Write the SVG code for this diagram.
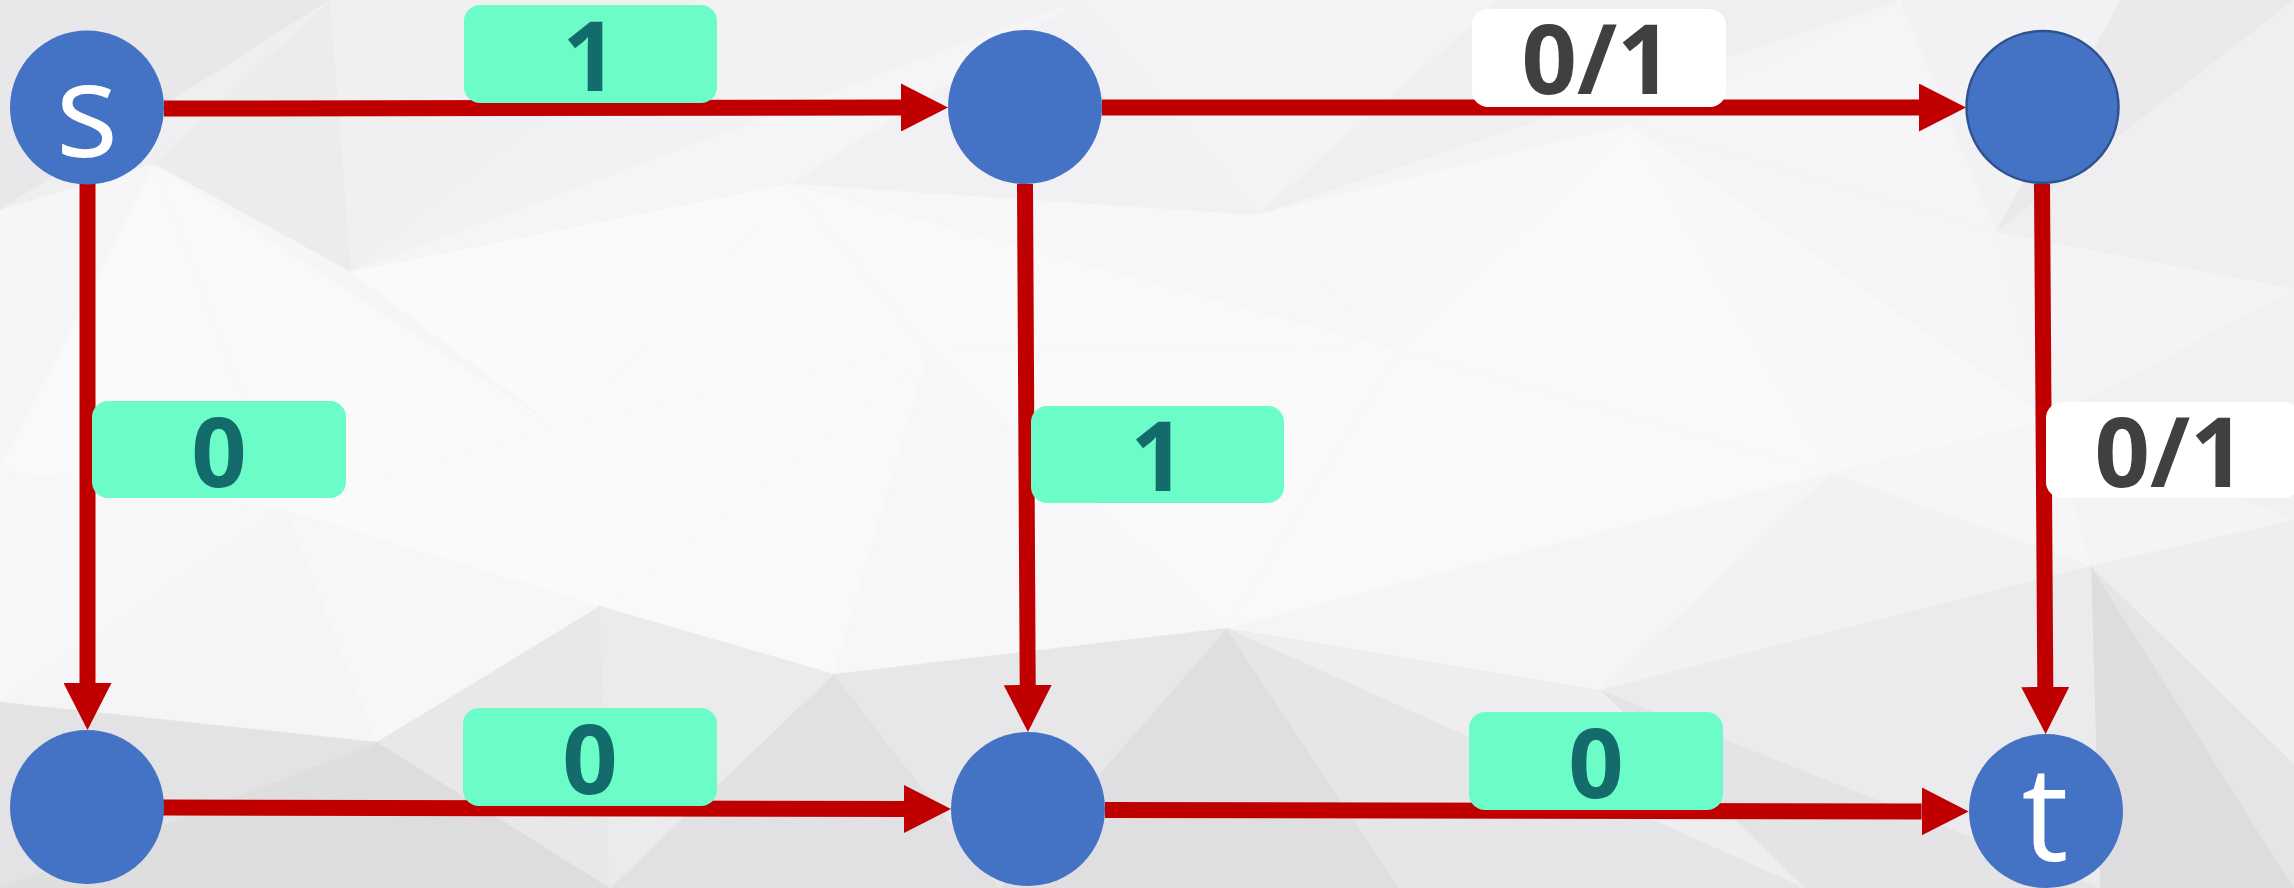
<svg xmlns="http://www.w3.org/2000/svg" width="2294" height="888" viewBox="0 0 2294 888">
  <defs>
    <style>
      .edge { stroke: #C00000; stroke-width: 16; fill: none; }
      .node { fill: #4472C4; }
      .lbl-g { fill: #6CFCC7; }
      .lbl-w { fill: #FFFFFF; }
      .num { font-family: "Open Sans", "Noto Sans", sans-serif; font-weight: 700; font-size: 97px; text-anchor: middle; }
      .num-g { fill: #146B6B; }
      .num-w { fill: #404040; }
      .nname { font-family: "Open Sans", "Noto Sans", sans-serif; font-size: 132px; fill: #FFFFFF; text-anchor: middle; }
    </style>
    <marker id="arrow" markerUnits="userSpaceOnUse" markerWidth="47" markerHeight="48" refX="0" refY="24" orient="auto" viewBox="0 0 47 48">
      <path d="M0,0 L47,24 L0,48 Z" fill="#C00000"/>
    </marker>
  </defs>

  <!-- faceted background -->
  <g id="background">
    <rect x="0" y="0" width="2294" height="888" fill="#f4f3f5"/>
    <polygon points="0,0 330,0 0,210" fill="#e8e8ea"/>
    <polygon points="330,0 154,164 0,210" fill="#efeef0"/>
    <polygon points="330,0 700,0 351,272" fill="#f0eff1"/>
    <polygon points="330,0 351,272 154,164" fill="#ecebed"/>
    <polygon points="700,0 1080,0 351,272" fill="#f2f1f3"/>
    <polygon points="1080,0 790,184 351,272" fill="#f5f4f6"/>
    <polygon points="1080,0 1500,0 1257,215" fill="#f3f2f4"/>
    <polygon points="1080,0 1257,215 790,184" fill="#f1f0f2"/>
    <polygon points="1500,0 1900,0 1257,215" fill="#efeff0"/>
    <polygon points="1900,0 1630,125 1257,215" fill="#f4f3f5"/>
    <polygon points="1900,0 2120,0 1996,232" fill="#f2f1f3"/>
    <polygon points="1900,0 1996,232 1630,125" fill="#f5f4f6"/>
    <polygon points="2120,0 2294,0 1996,232" fill="#eaeaec"/>
    <polygon points="2294,0 2294,289 1996,232" fill="#efeef0"/>

    <polygon points="0,210 154,164 0,470" fill="#f6f5f7"/>
    <polygon points="154,164 285,510 0,470" fill="#f9f8fa"/>
    <polygon points="154,164 351,272 560,430" fill="#f6f5f7"/>
    <polygon points="154,164 560,430 285,510" fill="#faf9fa"/>
    <polygon points="351,272 790,184 560,430" fill="#faf9fb"/>
    <polygon points="790,184 929,351 560,430" fill="#f9f8fa"/>
    <polygon points="790,184 1257,215 1400,350" fill="#f7f6f8"/>
    <polygon points="790,184 1400,350 929,351" fill="#f9f8fa"/>
    <polygon points="1257,215 1630,125 1400,350" fill="#f8f7f9"/>
    <polygon points="1630,125 1831,473 1400,350" fill="#faf9fa"/>
    <polygon points="1630,125 1996,232 2050,420" fill="#f5f4f6"/>
    <polygon points="1630,125 2050,420 1831,473" fill="#f8f7f9"/>
    <polygon points="1996,232 2294,289 2050,420" fill="#f4f3f5"/>
    <polygon points="2294,289 2294,520 2050,420" fill="#f1f0f2"/>

    <polygon points="0,470 285,510 0,702" fill="#f7f6f8"/>
    <polygon points="285,510 377,742 0,702" fill="#f5f4f6"/>
    <polygon points="285,510 560,430 600,606" fill="#faf9fb"/>
    <polygon points="285,510 600,606 377,742" fill="#f7f6f8"/>
    <polygon points="560,430 929,351 600,606" fill="#fbfafb"/>
    <polygon points="929,351 834,674 600,606" fill="#f9f8fa"/>
    <polygon points="929,351 1400,350 1227,628" fill="#faf9fa"/>
    <polygon points="929,351 1227,628 834,674" fill="#f7f6f8"/>
    <polygon points="1400,350 1831,473 1227,628" fill="#f9f8fa"/>
    <polygon points="1831,473 1600,690 1227,628" fill="#f5f4f6"/>
    <polygon points="1831,473 2050,420 2091,566" fill="#f6f5f7"/>
    <polygon points="1831,473 2091,566 1600,690" fill="#f2f1f3"/>
    <polygon points="2050,420 2294,520 2091,566" fill="#f4f3f5"/>
    <polygon points="2294,520 2294,764 2091,566" fill="#eeedef"/>

    <polygon points="0,702 377,742 0,888" fill="#e3e3e5"/>
    <polygon points="377,742 250,888 0,888" fill="#dededf"/>
    <polygon points="377,742 600,606 610,888" fill="#e8e8ea"/>
    <polygon points="377,742 610,888 250,888" fill="#dddddf"/>
    <polygon points="600,606 834,674 610,888" fill="#ebebed"/>
    <polygon points="834,674 1000,888 610,888" fill="#e1e1e3"/>
    <polygon points="834,674 1227,628 1000,888" fill="#e7e7e9"/>
    <polygon points="1227,628 1400,888 1000,888" fill="#dfdfe1"/>
    <polygon points="1227,628 1600,690 1805,888" fill="#eeedef"/>
    <polygon points="1227,628 1805,888 1400,888" fill="#e6e6e8"/>
    <polygon points="1600,690 2091,566 2100,888" fill="#ebebed"/>
    <polygon points="1600,690 2100,888 1805,888" fill="#e4e4e6"/>
    <polygon points="2091,566 2294,764 2294,888" fill="#e5e5e7"/>
    <polygon points="2091,566 2294,888 2100,888" fill="#dddddf"/>
  </g>

  <!-- directed edges -->
  <g id="connectors">
    <line id="edge-s-a" class="edge" x1="164" y1="108.5" x2="901" y2="107.5" marker-end="url(#arrow)"/>
    <line id="edge-a-b" class="edge" x1="1102" y1="107.5" x2="1919" y2="107.5" marker-end="url(#arrow)"/>
    <line id="edge-s-c" class="edge" x1="87.5" y1="184" x2="87.5" y2="683" marker-end="url(#arrow)"/>
    <line id="edge-a-d" class="edge" x1="1025" y1="184" x2="1027.7" y2="685" marker-end="url(#arrow)"/>
    <line id="edge-b-t" class="edge" x1="2042" y1="184" x2="2045.3" y2="687" marker-end="url(#arrow)"/>
    <line id="edge-c-d" class="edge" x1="163" y1="807.5" x2="904" y2="809" marker-end="url(#arrow)"/>
    <line id="edge-d-t" class="edge" x1="1105" y1="810" x2="1921.6" y2="811.4" marker-end="url(#arrow)"/>
  </g>

  <!-- edge labels -->
  <g id="edge-labels">
    <g id="label-s-a">
      <rect class="lbl-g" x="464" y="5" width="253" height="98" rx="16"/>
      <text class="num num-g" x="590" y="91">1</text>
    </g>
    <g id="label-a-b">
      <rect class="lbl-w" x="1472" y="9" width="254" height="98" rx="16"/>
      <text class="num num-w" x="1597" y="94">0/1</text>
    </g>
    <g id="label-s-c">
      <rect class="lbl-g" x="92" y="401" width="254" height="97" rx="16"/>
      <text class="num num-g" x="219" y="487">0</text>
    </g>
    <g id="label-a-d">
      <rect class="lbl-g" x="1031" y="406" width="253" height="97" rx="16"/>
      <text class="num num-g" x="1158" y="491">1</text>
    </g>
    <g id="label-b-t">
      <rect class="lbl-w" x="2046" y="402" width="254" height="96" rx="16"/>
      <text class="num num-w" x="2170" y="487">0/1</text>
    </g>
    <g id="label-c-d">
      <rect class="lbl-g" x="463" y="708" width="254" height="98" rx="16"/>
      <text class="num num-g" x="590" y="794">0</text>
    </g>
    <g id="label-d-t">
      <rect class="lbl-g" x="1469" y="712" width="254" height="98" rx="16"/>
      <text class="num num-g" x="1596" y="798">0</text>
    </g>
  </g>

  <!-- vertices -->
  <g id="node-s">
    <circle class="node" cx="87" cy="107.5" r="77"/>
    <text class="nname" x="87" y="157">s</text>
  </g>
  <g id="node-a">
    <circle class="node" cx="1025" cy="107" r="77"/>
  </g>
  <g id="node-b">
    <circle class="node" cx="2042.5" cy="107" r="76" stroke="#2F528F" stroke-width="2.5"/>
  </g>
  <g id="node-c">
    <circle class="node" cx="87" cy="807" r="77"/>
  </g>
  <g id="node-d">
    <circle class="node" cx="1028" cy="809" r="77"/>
  </g>
  <g id="node-t">
    <circle class="node" cx="2046" cy="811" r="77"/>
    <text class="nname" x="2045" y="861">t</text>
  </g>
</svg>
